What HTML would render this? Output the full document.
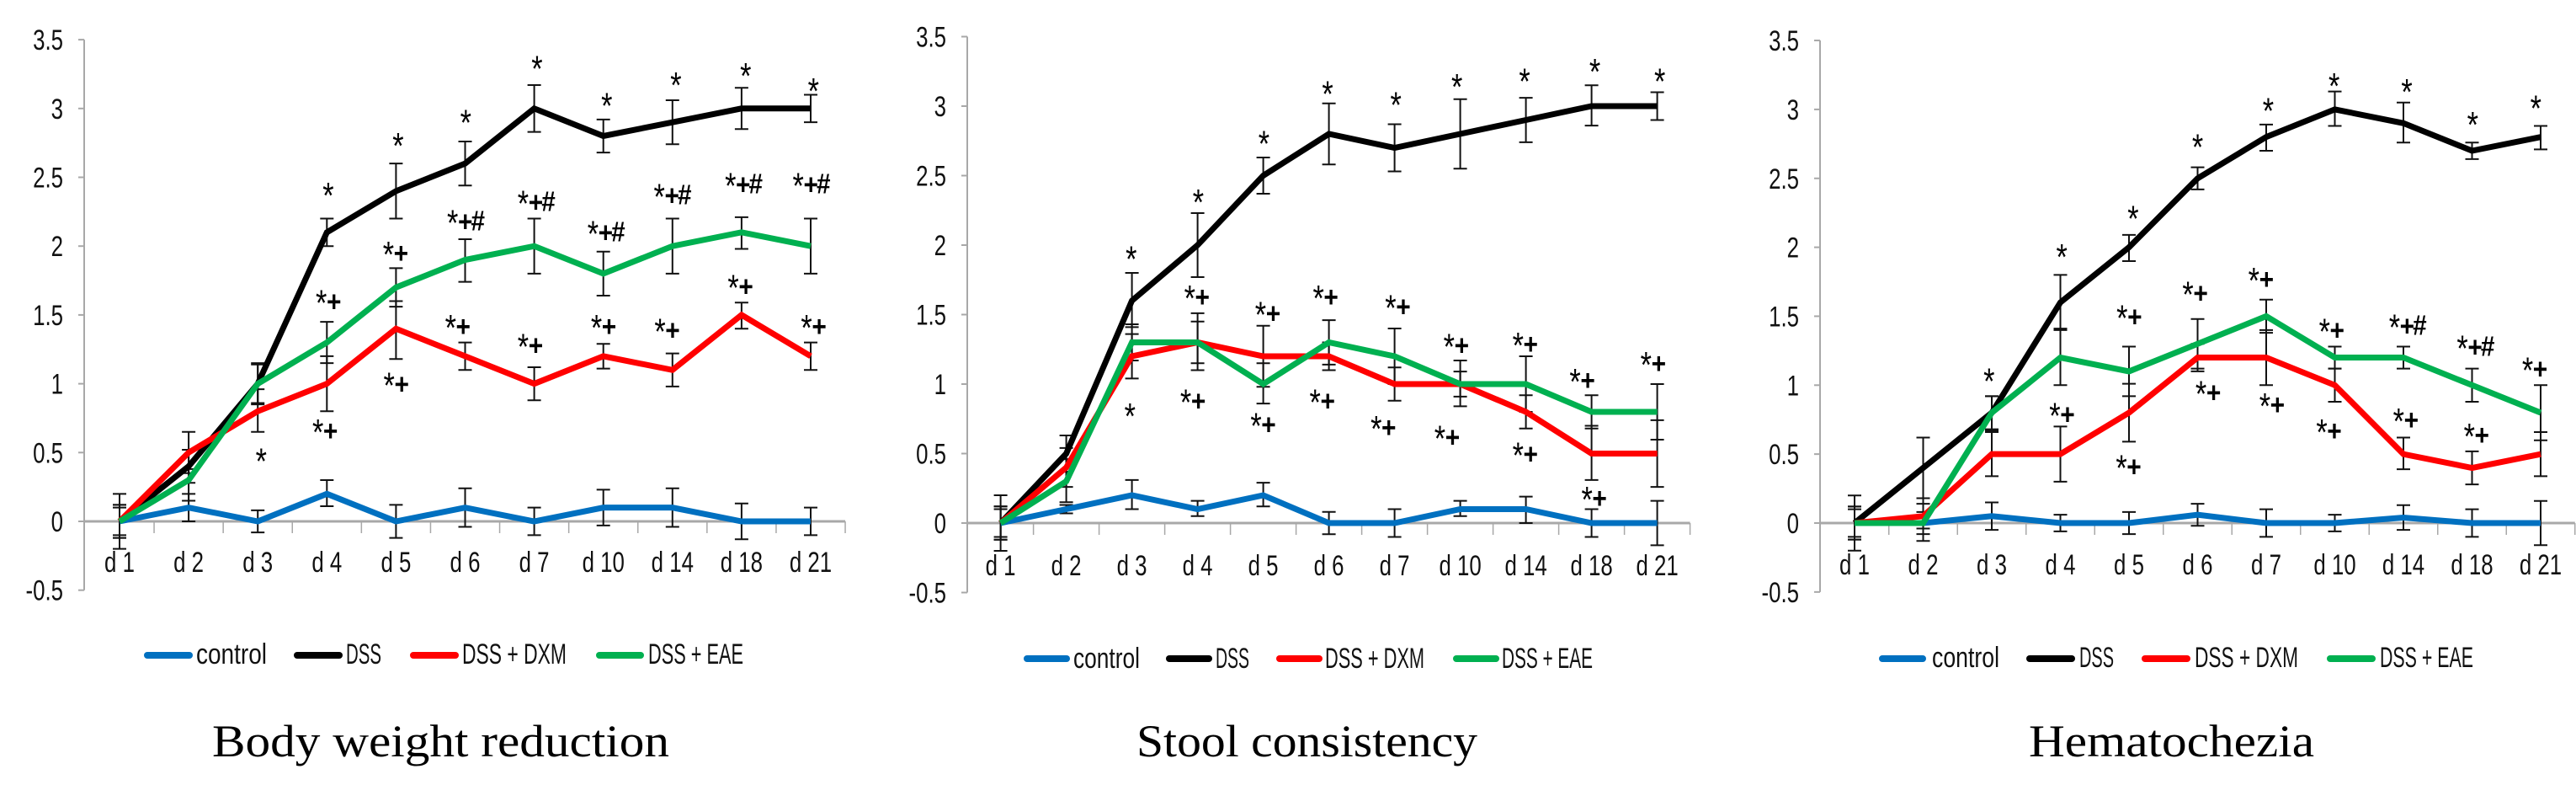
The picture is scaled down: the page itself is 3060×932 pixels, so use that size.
<!DOCTYPE html>
<html lang="en">
<head>
<meta charset="utf-8">
<title>Body weight reduction, stool consistency and hematochezia</title>
<style>
html,body{margin:0;padding:0;background:#fff;width:3060px;height:932px;overflow:hidden}
svg{display:block}
text{font-family:"Liberation Sans",sans-serif;fill:#111}
.title{font-family:"Liberation Serif",serif;font-size:54px;fill:#000}
.legend-text{font-size:34px}
</style>
</head>
<body>
<svg id="figure" width="3060" height="932" viewBox="0 0 3060 932" xmlns="http://www.w3.org/2000/svg">
  <g id="panel-a">
    <g>
      <line x1="175" x2="225" y1="778" y2="778" stroke="#0070C0" stroke-width="8" stroke-linecap="round"/>
      <text class="legend-text" x="233" y="788" textLength="84" lengthAdjust="spacingAndGlyphs">control</text>
      <line x1="353" x2="403" y1="778" y2="778" stroke="#000" stroke-width="8" stroke-linecap="round"/>
      <text class="legend-text" x="411" y="788" textLength="42" lengthAdjust="spacingAndGlyphs">DSS</text>
      <line x1="491" x2="541" y1="778" y2="778" stroke="#FF0000" stroke-width="8" stroke-linecap="round"/>
      <text class="legend-text" x="549" y="788" textLength="124" lengthAdjust="spacingAndGlyphs">DSS + DXM</text>
      <line x1="712" x2="761" y1="778" y2="778" stroke="#00B050" stroke-width="8" stroke-linecap="round"/>
      <text class="legend-text" x="770" y="788" textLength="113" lengthAdjust="spacingAndGlyphs">DSS + EAE</text>
    </g>
    <text class="title" x="252" y="898" textLength="543" lengthAdjust="spacingAndGlyphs">Body weight reduction</text>
  </g>
  <g id="panel-b">
    <g>
      <line x1="1220" x2="1267" y1="782" y2="782" stroke="#0070C0" stroke-width="8" stroke-linecap="round"/>
      <text class="legend-text" x="1275" y="793" textLength="79" lengthAdjust="spacingAndGlyphs">control</text>
      <line x1="1389" x2="1436" y1="782" y2="782" stroke="#000" stroke-width="8" stroke-linecap="round"/>
      <text class="legend-text" x="1444" y="793" textLength="40" lengthAdjust="spacingAndGlyphs">DSS</text>
      <line x1="1520" x2="1567" y1="782" y2="782" stroke="#FF0000" stroke-width="8" stroke-linecap="round"/>
      <text class="legend-text" x="1574" y="793" textLength="118" lengthAdjust="spacingAndGlyphs">DSS + DXM</text>
      <line x1="1730" x2="1777" y1="782" y2="782" stroke="#00B050" stroke-width="8" stroke-linecap="round"/>
      <text class="legend-text" x="1784" y="793" textLength="108" lengthAdjust="spacingAndGlyphs">DSS + EAE</text>
    </g>
    <text class="title" x="1350" y="898" textLength="405" lengthAdjust="spacingAndGlyphs">Stool consistency</text>
  </g>
  <g id="panel-c">
    <g>
      <line x1="2236" x2="2284" y1="782" y2="782" stroke="#0070C0" stroke-width="8" stroke-linecap="round"/>
      <text class="legend-text" x="2295" y="792" textLength="80" lengthAdjust="spacingAndGlyphs">control</text>
      <line x1="2411" x2="2461" y1="782" y2="782" stroke="#000" stroke-width="8" stroke-linecap="round"/>
      <text class="legend-text" x="2470" y="792" textLength="41" lengthAdjust="spacingAndGlyphs">DSS</text>
      <line x1="2548" x2="2598" y1="782" y2="782" stroke="#FF0000" stroke-width="8" stroke-linecap="round"/>
      <text class="legend-text" x="2607" y="792" textLength="123" lengthAdjust="spacingAndGlyphs">DSS + DXM</text>
      <line x1="2768" x2="2818" y1="782" y2="782" stroke="#00B050" stroke-width="8" stroke-linecap="round"/>
      <text class="legend-text" x="2827" y="792" textLength="111" lengthAdjust="spacingAndGlyphs">DSS + EAE</text>
    </g>
    <text class="title" x="2410" y="898" textLength="339" lengthAdjust="spacingAndGlyphs">Hematochezia</text>
  </g>
</svg>
<script>
// ---- shared categories and ticks ----
const categories = ['d 1','d 2','d 3','d 4','d 5','d 6','d 7','d 10','d 14','d 18','d 21'];
const yTickValues = [3.5,3,2.5,2,1.5,1,0.5,0,-0.5];

// ---- Body weight reduction ----
const bwControl   = [0,0.1,0,0.2,0,0.1,0,0.1,0.1,0,0];
const bwControlHi = [0.2,0.2,0.08,0.3,0.12,0.24,0.1,0.23,0.24,0.13,0.1];
const bwControlLo = [-0.2,0,-0.08,0.11,-0.12,-0.04,-0.1,-0.03,-0.04,-0.13,-0.1];
const bwDss   = [0,0.4,1,2.1,2.4,2.6,3,2.8,2.9,3,3];
const bwDssHi = [0.12,0.52,1.15,2.2,2.6,2.76,3.17,2.92,3.06,3.15,3.1];
const bwDssLo = [-0.12,0.28,0.85,2,2.2,2.44,2.83,2.68,2.74,2.85,2.9];
const bwDxm   = [0,0.5,0.8,1,1.4,1.2,1,1.2,1.1,1.5,1.2];
const bwDxmHi = [0.1,0.65,0.96,1.2,1.6,1.3,1.12,1.29,1.22,1.59,1.3];
const bwDxmLo = [-0.1,0.35,0.65,0.8,1.18,1.1,0.88,1.11,0.98,1.4,1.1];
const bwEae   = [0,0.3,1,1.3,1.7,1.9,2,1.8,2,2.1,2];
const bwEaeHi = [0.12,0.38,1.14,1.45,1.84,2.05,2.2,1.96,2.2,2.21,2.2];
const bwEaeLo = [-0.12,0.15,0.86,1.15,1.56,1.74,1.8,1.64,1.8,1.98,1.8];
const bwMarkCats = [3.02,4.03,5.01,6.04,7.05,8.05,9.06,10.04,2.05, 2.92,3.89,4.82,5.84,6.85,7.81,8.84,9.82, 4.79,5.84,6.9,7.82,8.88,9.94,3.9,2.87];
const bwMarkVals = [2.43,2.79,2.96,3.35,3.08,3.23,3.3,3.19,0.5, 1.65,2,2.23,2.37,2.15,2.42,2.5,2.5, 1.47,1.33,1.47,1.44,1.76,1.47,1.05,0.71];
const bwMarkText = ['*','*','*','*','*','*','*','*','*', '*+','*+','*+#','*+#','*+#','*+#','*+#','*+#', '*+','*+','*+','*+','*+','*+','*+','*+'];

// ---- Stool consistency ----
const scControl   = [0,0.1,0.2,0.1,0.2,0,0,0.1,0.1,0,0];
const scControlHi = [0.2,0.13,0.31,0.16,0.29,0.08,0.1,0.16,0.19,0.1,0.16];
const scControlLo = [-0.2,0.07,0.1,0.05,0.12,-0.08,-0.1,0.05,0,-0.1,-0.16];
const scDss   = [0,0.5,1.6,2,2.5,2.8,2.7,2.8,2.9,3,3];
const scDssHi = [0.12,0.63,1.8,2.23,2.63,3.02,2.87,3.05,3.06,3.15,3.1];
const scDssLo = [-0.12,0.37,1.41,1.77,2.37,2.58,2.53,2.55,2.74,2.86,2.9];
const scDxm   = [0,0.4,1.2,1.3,1.2,1.2,1,1,0.8,0.5,0.5];
const scDxmHi = [0.1,0.54,1.36,1.51,1.42,1.3,1.12,1.17,0.92,0.7,0.74];
const scDxmLo = [-0.1,0.26,1.04,1.1,0.98,1.1,0.88,0.84,0.68,0.31,0.26];
const scEae   = [0,0.3,1.3,1.3,1,1.3,1.2,1,1,0.8,0.8];
const scEaeHi = [0.12,0.46,1.43,1.45,1.15,1.46,1.4,1.09,1.2,0.92,1];
const scEaeLo = [-0.12,0.15,1.17,1.15,0.86,1.14,1,0.91,0.8,0.68,0.6];
const scMarkCats = [1.99,3.01,4.01,4.98,6.02,6.95,7.98,9.05,10.04,1.97, 2.88,3.96,4.84,5.94,6.83,7.88,8.75,9.83, 2.82,3.89,4.79,5.72,6.69,7.88,8.93];
const scMarkVals = [1.96,2.37,2.79,3.15,3.07,3.2,3.24,3.31,3.24,0.83, 1.68,1.56,1.68,1.61,1.33,1.34,1.08,1.2, 0.93,0.76,0.93,0.74,0.67,0.55,0.23];
const scMarkText = ['*','*','*','*','*','*','*','*','*','*', '*+','*+','*+','*+','*+','*+','*+','*+', '*+','*+','*+','*+','*+','*+','*+'];

// ---- Hematochezia ----
const heControl   = [0,0,0.05,0,0,0.06,0,0,0.04,0,0];
const heControlHi = [0.2,0.14,0.15,0.06,0.08,0.14,0.1,0.06,0.13,0.1,0.16];
const heControlLo = [-0.2,-0.13,-0.05,-0.06,-0.08,-0.02,-0.1,-0.06,-0.05,-0.1,-0.16];
const heDss   = [0,0.4,0.8,1.6,2,2.5,2.8,3,2.9,2.7,2.8];
const heDssHi = [0.12,0.62,0.92,1.8,2.09,2.58,2.89,3.13,3.05,2.76,2.88];
const heDssLo = [-0.12,0.18,0.68,1.4,1.9,2.42,2.7,2.88,2.76,2.64,2.71];
const heDxm   = [0,0.05,0.5,0.5,0.8,1.2,1.2,1,0.5,0.4,0.5];
const heDxmHi = [0.1,0.18,0.67,0.7,1.01,1.3,1.4,1.12,0.62,0.52,0.66];
const heDxmLo = [-0.1,-0.04,0.34,0.3,0.59,1.1,1,0.88,0.39,0.28,0.34];
const heEae   = [0,0,0.8,1.2,1.1,1.3,1.5,1.2,1.2,1,0.8];
const heEaeHi = [0.12,0.08,0.92,1.41,1.28,1.48,1.62,1.28,1.28,1.12,1];
const heEaeLo = [-0.12,-0.08,0.66,1,0.92,1.12,1.38,1.12,1.12,0.88,0.6];
const heMarkCats = [1.96,3.02,4.06,5,6.03,6.99,8.05,9.01,9.93, 3.9,4.86,5.82,6.85,7.87,8.86,9.81, 2.92,3.89,5.05,5.98,6.81,7.93,8.96];
const heMarkVals = [1.09,1.99,2.27,2.79,3.05,3.23,3.19,2.95,3.07, 1.55,1.72,1.82,1.45,1.48,1.33,1.17, 0.84,0.46,1,0.91,0.72,0.8,0.69];
const heMarkText = ['*','*','*','*','*','*','*','*','*', '*+','*+','*+','*+','*+#','*+#','*+', '*+','*+','*+','*+','*+','*+','*+'];

const SVG_NS = 'http://www.w3.org/2000/svg';
function make(tag, attrs, parent) {
  const node = document.createElementNS(SVG_NS, tag);
  for (const key in attrs) node.setAttribute(key, attrs[key]);
  parent.appendChild(node);
  return node;
}
function label(str, x, y, size, sx, anchor, weight, parent) {
  const node = make('text', {
    transform: 'translate(' + x + ' ' + y + ') scale(' + sx + ' 1)',
    'font-size': size, 'text-anchor': anchor, 'font-weight': weight, 'xml:space': 'preserve'
  }, parent);
  node.textContent = str;
  return node;
}

function drawChart(parent, box, seriesList, markCats, markVals, markText) {
  const xScale = (i) => box.x0 + box.step * i;
  const yScale = (v) => box.y0 - box.unit * v;
  const root = make('g', {}, parent);
  
  

  // y axis
  const yAxis = make('line', {x1: box.axisX, x2: box.axisX, y1: yScale(3.5), y2: yScale(-0.5), stroke: '#a8a8a8', 'stroke-width': 2}, root);
  
  
  yTickValues.forEach((v) => {
    const tick = make('line', {x1: box.axisX - 7, x2: box.axisX, y1: yScale(v), y2: yScale(v), stroke: '#a8a8a8', 'stroke-width': 2}, root);
    
    
    const tl = label(String(v), box.axisX - 25, yScale(v) + 12, 34, 0.76, 'end', 'normal', root);
    
    
  });

  // x axis
  const xRight = xScale(categories.length - 1) + box.step / 2;
  const xAxis = make('line', {x1: box.axisX, x2: xRight, y1: yScale(0), y2: yScale(0), stroke: '#a8a8a8', 'stroke-width': 3}, root);
  
  
  categories.forEach((c, i) => {
    const edge = xScale(i) + box.step / 2;
    const tick = make('line', {x1: edge, x2: edge, y1: yScale(0), y2: yScale(0) + 14, stroke: '#a8a8a8', 'stroke-width': 1.5}, root);
    
    
    const tl = label(c, xScale(i), box.xLabelY, 34, 0.76, 'middle', 'normal', root);
    
    
  });

  // error bars
  seriesList.forEach((s) => {
    s.values.forEach((v, i) => {
      const x = xScale(i);
      const path = 'M' + x + ' ' + yScale(s.lo[i]) + 'V' + yScale(s.hi[i]) +
                   'M' + (x - 8) + ' ' + yScale(s.hi[i]) + 'H' + (x + 8) +
                   'M' + (x - 8) + ' ' + yScale(s.lo[i]) + 'H' + (x + 8);
      const bar = make('path', {d: path, fill: 'none', stroke: '#111', 'stroke-width': 2}, root);
      
      
    });
  });

  // series lines
  seriesList.forEach((s) => {
    const pts = s.values.map((v, i) => xScale(i) + ',' + yScale(v)).join(' ');
    const line = make('polyline', {points: pts, fill: 'none', stroke: s.color, 'stroke-width': 7, 'stroke-linejoin': 'miter'}, root);
    
    
  });

  // significance marks (fractional category, value level, printed symbols)
  markText.forEach((text, i) => {
    const x = xScale(markCats[i]);
    const y = yScale(markVals[i]);
    const mark = make('g', {}, root);
    
    
    Array.from(text).forEach((ch) => {
      let glyph;
      if (ch === '*') glyph = label(ch, x, y + 25, 44, 0.78, 'middle', 'normal', mark);
      if (ch === '+') glyph = label(ch, x + 15, y + 20, 34, 0.88, 'middle', 'bold', mark);
      if (ch === '#') glyph = label(ch, x + 30, y + 19, 33, 0.9, 'middle', 'bold', mark);
      glyph.setAttribute('style', 'fill:#000');
      
      
    });
  });
}

drawChart(document.getElementById('panel-a'),
  {x0: 142, step: 82.1, y0: 619, unit: 163.4, axisX: 100, xLabelY: 679},
  [
    {key: 'control', color: '#0070C0', values: bwControl, hi: bwControlHi, lo: bwControlLo},
    {key: 'dss', color: '#000000', values: bwDss, hi: bwDssHi, lo: bwDssLo},
    {key: 'dxm', color: '#FF0000', values: bwDxm, hi: bwDxmHi, lo: bwDxmLo},
    {key: 'eae', color: '#00B050', values: bwEae, hi: bwEaeHi, lo: bwEaeLo}
  ], bwMarkCats, bwMarkVals, bwMarkText);

drawChart(document.getElementById('panel-b'),
  {x0: 1188.6, step: 78, y0: 621, unit: 165, axisX: 1149, xLabelY: 683},
  [
    {key: 'control', color: '#0070C0', values: scControl, hi: scControlHi, lo: scControlLo},
    {key: 'dss', color: '#000000', values: scDss, hi: scDssHi, lo: scDssLo},
    {key: 'dxm', color: '#FF0000', values: scDxm, hi: scDxmHi, lo: scDxmLo},
    {key: 'eae', color: '#00B050', values: scEae, hi: scEaeHi, lo: scEaeLo}
  ], scMarkCats, scMarkVals, scMarkText);

drawChart(document.getElementById('panel-c'),
  {x0: 2203, step: 81.5, y0: 621, unit: 163.7, axisX: 2162, xLabelY: 682},
  [
    {key: 'control', color: '#0070C0', values: heControl, hi: heControlHi, lo: heControlLo},
    {key: 'dss', color: '#000000', values: heDss, hi: heDssHi, lo: heDssLo},
    {key: 'dxm', color: '#FF0000', values: heDxm, hi: heDxmHi, lo: heDxmLo},
    {key: 'eae', color: '#00B050', values: heEae, hi: heEaeHi, lo: heEaeLo}
  ], heMarkCats, heMarkVals, heMarkText);
</script>
</body>
</html>
